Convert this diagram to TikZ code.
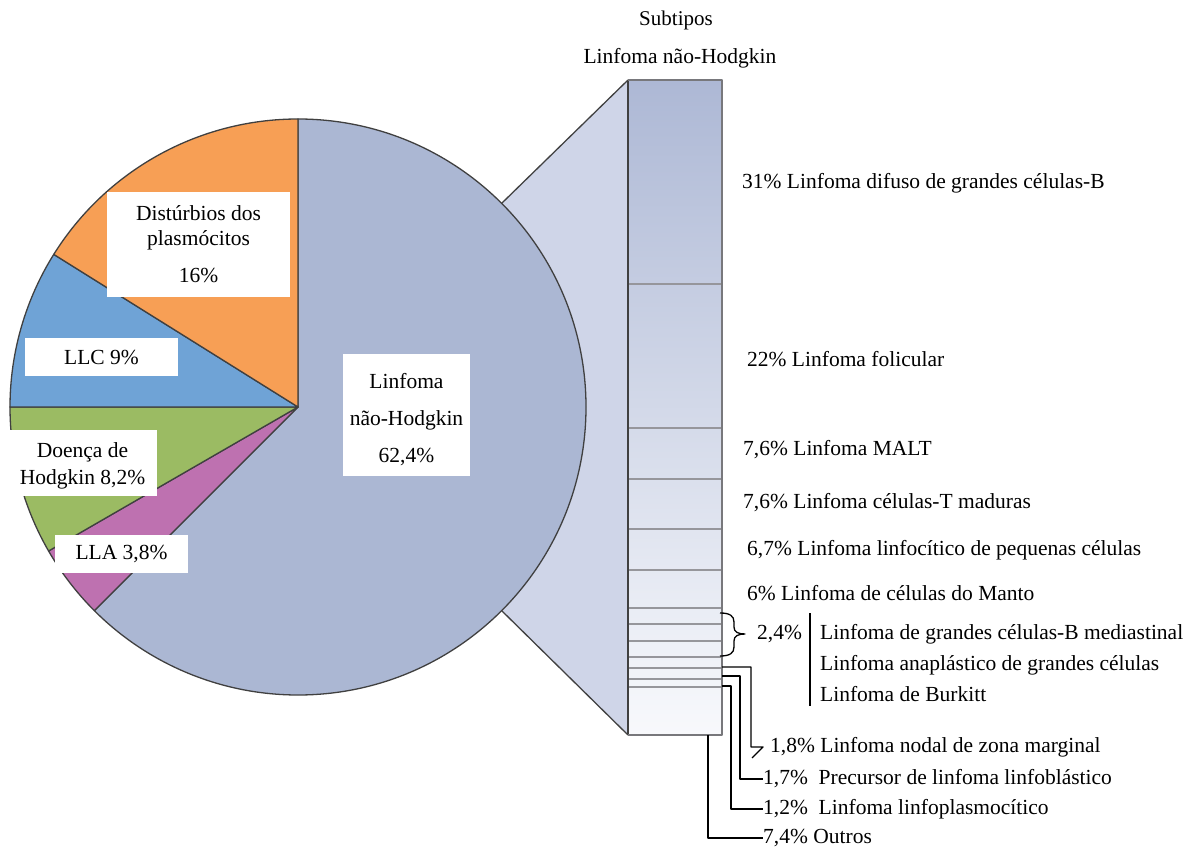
\documentclass[tikz,border=0pt]{standalone}
\usepackage{fontspec}
\setmainfont{Liberation Serif}
\usetikzlibrary{calc}
\definecolor{nhl}{RGB}{171,183,211}
\definecolor{orng}{RGB}{247,159,85}
\definecolor{llcb}{RGB}{111,163,214}
\definecolor{grn}{RGB}{155,187,99}
\definecolor{purp}{RGB}{190,113,176}
\definecolor{wedge}{RGB}{207,213,232}
\definecolor{edge}{RGB}{64,64,64}
\definecolor{bartop}{RGB}{173,184,213}
\definecolor{barbot}{RGB}{248,249,252}
\definecolor{divl}{RGB}{150,150,155}
\begin{document}
\begin{tikzpicture}[x=1pt,y=-1pt,line join=round,
  every node/.style={font=\fontsize{21.5}{27}\selectfont, text=black},
  slice/.style={draw=edge, line width=1.3pt},
  whitebox/.style={fill=white, inner sep=0pt, align=center},
  lbl/.style={anchor=west, inner sep=0pt},
  leader/.style={draw=black, line width=1.4pt},
  divider/.style={draw=divl, line width=1.2pt}]
\useasboundingbox (0,0) rectangle (1195,850);
\fill[white] (0,0) rectangle (1195,850);
% geometry
\coordinate (O) at (298,407);
\coordinate (pu) at ($(O)+(-45:288)$);
\coordinate (pl) at ($(O)+(45:288)$);
\coordinate (btl) at (628,80);
\coordinate (bbl) at (628,735);
\coordinate (btr) at (722,80);
\coordinate (bbr) at (722,735);
% connecting wedge
\fill[wedge] (O) -- (pu) -- (btl) -- (bbl) -- (pl) -- cycle;
\draw[edge, line width=1.3pt] (pu) -- (btl);
\draw[edge, line width=1.3pt] (pl) -- (bbl);
% pie
\filldraw[slice, fill=nhl] (O) -- ++(-90:288) arc[start angle=-90, end angle=135, radius=288] -- cycle;
\filldraw[slice, fill=purp] (O) -- ++(135:288) arc[start angle=135, end angle=150, radius=288] -- cycle;
\filldraw[slice, fill=grn] (O) -- ++(150:288) arc[start angle=150, end angle=180, radius=288] -- cycle;
\filldraw[slice, fill=llcb] (O) -- ++(180:288) arc[start angle=180, end angle=212, radius=288] -- cycle;
\filldraw[slice, fill=orng] (O) -- ++(212:288) arc[start angle=212, end angle=270, radius=288] -- cycle;
% pie labels
\node[whitebox, minimum width=183pt, minimum height=105pt] (dist) at (198.5,244.5) {Distúrbios dos\\[-2pt] plasmócitos\\[10pt] 16\%};
\node[whitebox, minimum width=153pt, minimum height=38pt] (llc) at (101.5,357) {LLC 9\%};
\node[whitebox, minimum width=149pt, minimum height=65pt] (hodg) at (82.5,463) {\rule{0pt}{20pt}Doença de\\[0pt] Hodgkin 8,2\%};
\node[whitebox, minimum width=133pt, minimum height=38pt] (lla) at (121.5,554) {LLA 3,8\%};
\node[whitebox, minimum width=127pt, minimum height=121pt] (nhlbox) at (406.5,415) {\rule{0pt}{25pt}Linfoma\\[10pt] não-Hodgkin\\[10pt] 62,4\%};
% bar
\shade[top color=bartop, bottom color=barbot] (btl) rectangle (bbr);
\foreach \yy in {284,428,479,529,570,608,624,641,657,668,679,687}
  \draw[divider] (628,\yy) -- (722,\yy);
\draw[edge, line width=1.4pt] (btl) -- (bbl);
\draw[draw=divl!80!black, line width=1.3pt] (btl) -- (btr) -- (bbr) -- (bbl);
% titles
\node (sub) at (676,20) {\fontsize{21}{24}\selectfont Subtipos};
\node (subt) at (680,58) {\fontsize{21.5}{24}\selectfont Linfoma não-Hodgkin};
% right labels
\node[lbl] (t31) at (742,183) {31\% Linfoma difuso de grandes células-B};
\node[lbl] (t22) at (747,359) {22\% Linfoma folicular};
\node[lbl] (t76a) at (743,450) {7,6\% Linfoma MALT};
\node[lbl] (t76b) at (743,503) {7,6\% Linfoma células-T maduras};
\node[lbl] (t67) at (747,550) {6,7\% Linfoma linfocítico de pequenas células};
\node[lbl] (t6) at (747,593) {6\% Linfoma de células do Manto};
\node[lbl] (t24) at (757,634) {2,4\%};
\node[lbl] (tmed) at (820,634) {Linfoma de grandes células-B mediastinal};
\node[lbl] (tana) at (820,665) {Linfoma anaplástico de grandes células};
\node[lbl] (tbur) at (820,694) {Linfoma de Burkitt};
\node[lbl] (t18) at (770,747) {1,8\% Linfoma nodal de zona marginal};
\node[lbl] (t17) at (763,779) {1,7\%\ \ Precursor de linfoma linfoblástico};
\node[lbl] (t12) at (763,809) {1,2\%\ \ Linfoma linfoplasmocítico};
\node[lbl] (t74) at (763,838) {7,4\% Outros};
% brace
\coordinate (br1) at (720,613);
\coordinate (br2) at (720,656);
\coordinate (brt) at (745,634);
\draw[black, line width=1.3pt] (br1) .. controls (730,613) and (734,616) .. (734,622) -- (734,627)
  .. controls (734,632) and (738,634) .. (brt)
  .. controls (738,634) and (734,636) .. (734,641) -- (734,647)
  .. controls (734,653) and (730,656) .. (br2);
% separator
\coordinate (s1) at (810,613);
\coordinate (s2) at (810,706);
\draw[black, line width=1.4pt] (s1) -- (s2);
% leaders
\coordinate (c18) at (722,667);
\coordinate (c17) at (722,676);
\coordinate (c12) at (722,686);
\coordinate (c74) at (708,735);
\coordinate (k18) at (751,747);
\draw[leader] (c18) -| (k18) -- ++(12,0) -- ++(-11,11);
\draw[leader] (c17) -| (740,779) -- (t17.west);
\draw[leader] (c12) -| (731,809) -- (t12.west);
\draw[leader] (c74) |- (t74.west);
\end{tikzpicture}
\end{document}
